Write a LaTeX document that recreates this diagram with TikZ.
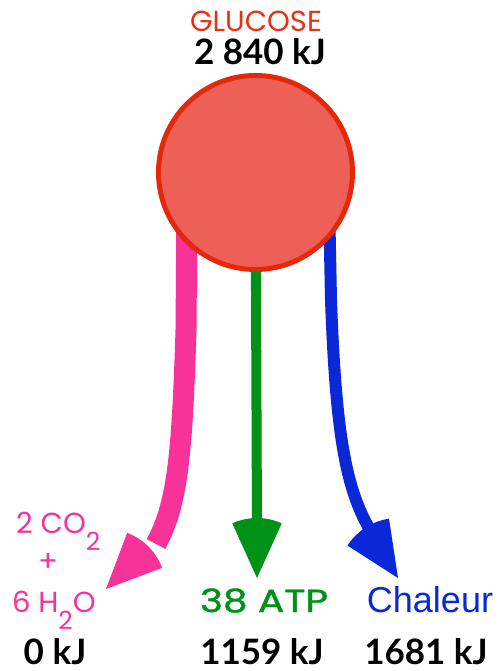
\documentclass[tikz,border=0pt]{standalone}
\usepackage{fontspec}
\newfontfamily\popf{Poppins}
\newfontfamily\popm{Poppins}[FakeBold=1.2]
\newfontfamily\latof{Lato}
\newfontfamily\libf{Liberation Sans}
\usetikzlibrary{backgrounds}
\definecolor{cpink}{RGB}{247,51,153}
\definecolor{cgreen}{RGB}{0,145,25}
\definecolor{cblue}{RGB}{10,40,215}
\definecolor{cfill}{RGB}{236,96,87}
\definecolor{cedge}{RGB}{230,40,10}
\definecolor{cglu}{RGB}{232,48,20}
\tikzset{
  glu/.style={circle, draw=cedge, fill=cfill, line width=5pt, inner sep=0pt, minimum size=194pt},
  flow/.style={line width=#1},
  kj/.style={anchor=base, inner sep=0pt, font=\latof\bfseries\fontsize{35}{35}\selectfont},
  thin/.style={anchor=base, inner sep=0pt, font=\popf\fontsize{29}{29}\selectfont},
}
\begin{document}
\begin{tikzpicture}[x=1pt,y=-1pt]
\useasboundingbox (0,0) rectangle (498,671);

\node[glu] (g) at (255.5,172.5) {};

\coordinate (ps) at (187,200);
\coordinate (pe) at (156,544);
\coordinate (bs) at (329,200);
\coordinate (be) at (370,530);
\coordinate (ge) at (257,530);
\coordinate (pt) at (106,589);
\coordinate (gt) at (257,578);
\coordinate (bt) at (398,578);

\begin{scope}[on background layer]
\draw[cpink, flow=21pt] (ps) -- (186,330) .. controls (182,460) and (177,505) .. (pe);
\draw[cgreen, flow=10pt] (g.center) -- (ge);
\draw[cblue, flow=12pt] (bs) -- (331,300) .. controls (336,440) and (347,490) .. (be);
\end{scope}

\fill[cpink] (pt) -- ++(-69.35:60) arc[start angle=-69.35, end angle=-20.65, radius=60] -- cycle;
\fill[cgreen] (gt) -- ++(-114.35:60) arc[start angle=-114.35, end angle=-65.65, radius=60] -- cycle;
\fill[cblue] (bt) -- ++(-147.3:60) arc[start angle=-147.3, end angle=-98.6, radius=60] -- cycle;

\node[thin, text=cglu, text depth=0pt] (tg) at (256,32) {GLUCOSE};
\node[kj, text height=24pt] (tk) at (260,65) {2 840 kJ};

\node[thin, text=cpink, anchor=base west] (tco) at (16,533) {2 CO\raisebox{-17pt}{\fontsize{25}{25}\selectfont 2}};
\node[thin, text=cpink, anchor=center] (tplus) at (48,562) {+};
\node[thin, text=cpink, anchor=base west] (th) at (12,612) {6 H\raisebox{-17pt}{\fontsize{25}{25}\selectfont 2}O};
\node[kj] (k0) at (55,664) {0 kJ};

\node[anchor=base, inner sep=0pt, text=cgreen, font=\popm\fontsize{32}{32}\selectfont] (tatp) at (264,612) {\scalebox{1.22}[1]{38 ATP}};
\node[kj] (k1) at (262,664) {1159 kJ};

\node[anchor=base, inner sep=0pt, text=cblue, font=\libf\fontsize{36}{36}\selectfont] (tch) at (430,612) {Chaleur};
\node[kj] (k2) at (426,664) {1681 kJ};
\end{tikzpicture}
\end{document}
